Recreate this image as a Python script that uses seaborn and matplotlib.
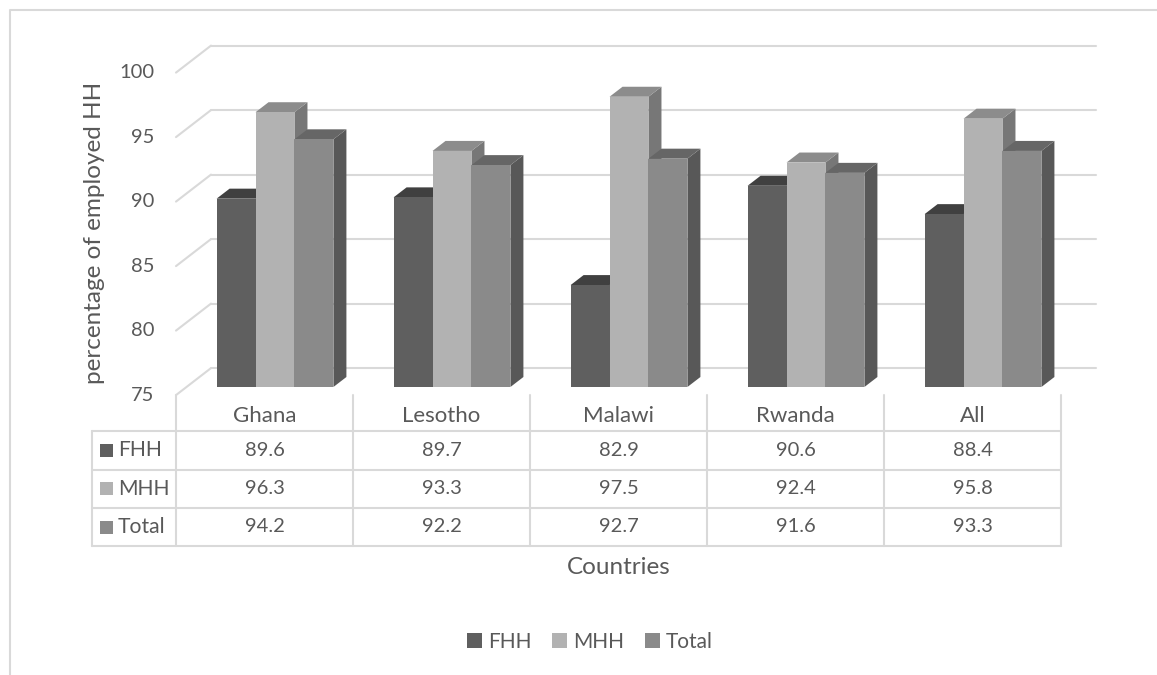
import numpy as np
import pandas as pd
import matplotlib
matplotlib.use("Agg")
import matplotlib.pyplot as plt
from matplotlib.patches import Polygon, Rectangle, Patch
import seaborn as sns

# ---- data -------------------------------------------------------------
countries = ["Ghana", "Lesotho", "Malawi", "Rwanda", "All"]
groups = ["FHH", "MHH", "Total"]
fhh = [89.6, 89.7, 82.9, 90.6, 88.4]
mhh = [96.3, 93.3, 97.5, 92.4, 95.8]
total = [94.2, 92.2, 92.7, 91.6, 93.3]
y_ticks = [75, 80, 85, 90, 95, 100]
y_title = "percentage of employed HH"
x_title = "Countries"

# ---- styling ----------------------------------------------------------
front_colors = ["#5f5f5f", "#b2b2b2", "#8a8a8a"]
top_colors = ["#404040", "#8c8c8c", "#666666"]
side_colors = ["#474747", "#777777", "#585858"]
text_color = "#595959"
line_color = "#d9d9d9"

df = pd.DataFrame({
    "Country": countries * len(groups),
    "Household": np.repeat(groups, len(countries)),
    "Value": fhh + mhh + total,
})
series = {"FHH": fhh, "MHH": mhh, "Total": total}

sns.set_theme(style="white")
plt.rcParams["font.family"] = ["Lato", "DejaVu Sans"]

W, H = 1157, 675
fig = plt.figure(figsize=(W / 100, H / 100), dpi=100)

# pixel geometry of the bar plane
cat_w = 177.0        # px per category
px_unit = 12.9       # px per percentage point
x_left = 186.5
y_base = 387.0
ymin, ymax = 75, 100

# overlay in pixel coordinates for frame and data table
ov = fig.add_axes([0, 0, 1, 1])
ov.set_xlim(0, W)
ov.set_ylim(H, 0)
ov.axis("off")

ax = fig.add_axes([x_left / W, (H - y_base) / H,
                   len(countries) * cat_w / W, (ymax - ymin) * px_unit / H])

# 3-D depth of the floor and of the bars, in data units
D_x, D_y = 35 / cat_w, 27 / px_unit
fr_dx, fr_dy = -0.3 * D_x, -0.3 * D_y
bk_dx, bk_dy = 0.7 * D_x, 0.7 * D_y
bar_dx, bar_dy = 13 / cat_w, 10 / px_unit

sns.barplot(data=df, x="Country", y="Value", hue="Household",
            order=countries, hue_order=groups, palette=front_colors,
            saturation=1, width=0.66, linewidth=0, edgecolor="none",
            legend=False, ax=ax)
ax.set_xlim(-0.5, len(countries) - 0.5)
ax.set_ylim(ymin, ymax)
ax.axis("off")

# gridlines on the back wall plus the receding side-wall segments
for v in y_ticks:
    ax.plot([-0.5 + bk_dx, len(countries) - 0.5 + bk_dx], [v + bk_dy, v + bk_dy],
            color=line_color, lw=1.5, clip_on=False, zorder=1)
    ax.plot([-0.5 + fr_dx, -0.5 + bk_dx], [v + fr_dy, v + bk_dy],
            color=line_color, lw=1.5, clip_on=False, zorder=1)
    ax.text(-0.5 + fr_dx - 22 / cat_w, v + fr_dy, f"{v}", ha="right", va="center",
            fontsize=14.5, color=text_color, clip_on=False)

# top and side faces of each column
for j, cont in enumerate(ax.containers):
    for bar in cont:
        x0, w, top = bar.get_x(), bar.get_width(), bar.get_height()
        bar.set_zorder(4 + 2 * j)
        top_face = Polygon([(x0, top), (x0 + w, top), (x0 + w + bar_dx, top + bar_dy),
                            (x0 + bar_dx, top + bar_dy)], closed=True,
                           facecolor=top_colors[j], edgecolor="none",
                           zorder=3 + 2 * j, clip_on=False)
        side_face = Polygon([(x0 + w, ymin), (x0 + w, top), (x0 + w + bar_dx, top + bar_dy),
                             (x0 + w + bar_dx, ymin + bar_dy)], closed=True,
                            facecolor=side_colors[j], edgecolor="none",
                            zorder=3 + 2 * j, clip_on=False)
        ax.add_patch(side_face)
        ax.add_patch(top_face)

# axis title
fig.text(95 / W, 1 - 233 / H, y_title, rotation=90, ha="center", va="center",
         fontsize=17.5, color=text_color)

# ---- data table ---------------------------------------------------------
col0, col_w = 176, 177
row_y = [395, 431, 469.5, 508, 546]
lab_left = 92
right = col0 + col_w * len(countries)
lw = 1.5
for k in range(len(countries) + 1):
    ov.plot([col0 + k * col_w] * 2, [row_y[0], row_y[-1]], color=line_color, lw=lw)
ov.plot([lab_left, lab_left], [row_y[1], row_y[-1]], color=line_color, lw=lw)
for y in row_y[1:]:
    ov.plot([lab_left, right], [y, y], color=line_color, lw=lw)

for i, c in enumerate(countries):
    ov.text(col0 + (i + 0.5) * col_w, (row_y[0] + row_y[1]) / 2 + 3, c,
            ha="center", va="center", fontsize=16, color=text_color)
for r, g in enumerate(groups):
    yc = (row_y[r + 1] + row_y[r + 2]) / 2
    ov.add_patch(Rectangle((100, yc - 6.5), 13, 13, facecolor=front_colors[r],
                           edgecolor="none"))
    ov.text(118, yc, g, ha="left", va="center", fontsize=15.2, color=text_color)
    for i, v in enumerate(series[g]):
        ov.text(col0 + (i + 0.5) * col_w, yc, f"{v:.1f}", ha="center", va="center",
                fontsize=14.5, color=text_color)

ov.text((col0 + right) / 2 + 0, 568, x_title, ha="center", va="center",
        fontsize=17.5, color=text_color)

# chart frame
ov.plot([10, 10, W], [H, 10, 10], color=line_color, lw=1.5)

# ---- legend -------------------------------------------------------------
handles = [Patch(facecolor=c, edgecolor="none", label=g)
           for c, g in zip(front_colors, groups)]
fig.legend(handles=handles, loc="center", bbox_to_anchor=(590 / W, 1 - 642 / H),
           ncol=3, frameon=False, fontsize=15, labelcolor=text_color,
           handlelength=0.7, handleheight=0.7, handletextpad=0.3,
           columnspacing=1.0)

fig.savefig("out.png", dpi=100)
